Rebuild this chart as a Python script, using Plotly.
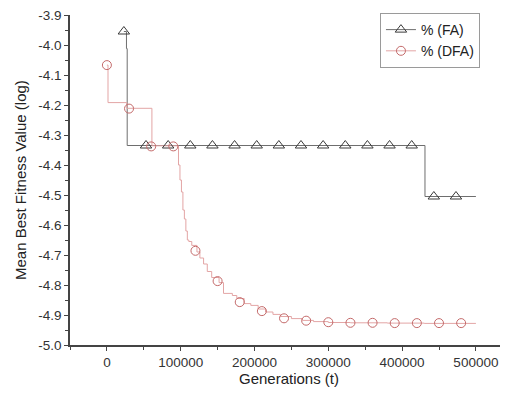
import plotly.graph_objects as go

# FA series (step line)
fa_x = [23000, 26500, 27500, 431000, 500000]
fa_y = [-3.955, -4.012, -4.335, -4.505, -4.505]
# FA markers
fa_mx = [23000, 53000, 83000, 113000, 143000, 173000, 203000, 233000, 263000,
         293000, 323000, 353000, 383000, 413000, 443000, 473000]
fa_my = [-3.955, -4.335, -4.335, -4.335, -4.335, -4.335, -4.335, -4.335, -4.335,
         -4.335, -4.335, -4.335, -4.335, -4.335, -4.505, -4.505]

# DFA series (step line)
dfa_x = [0, 1500, 27000, 61000, 97000, 99000, 101000, 103000, 105000, 107000, 109000,
         111000, 115000, 122000, 126000, 131000, 136000, 142000, 152000, 158000, 170000,
         176000, 186000, 195000, 205000, 215000, 225000, 235000, 250000, 265000, 280000,
         300000, 330000, 380000, 430000, 500000]
dfa_y = [-4.067, -4.192, -4.211, -4.336, -4.40, -4.45, -4.49, -4.55, -4.58, -4.62, -4.65,
         -4.655, -4.668, -4.69, -4.71, -4.73, -4.755, -4.775, -4.792, -4.828, -4.835,
         -4.845, -4.862, -4.868, -4.88, -4.89, -4.898, -4.905, -4.912, -4.918, -4.922,
         -4.925, -4.926, -4.927, -4.928, -4.928]
# DFA markers
dfa_mx = [0, 30000, 60000, 90000, 120000, 150000, 180000, 210000, 240000, 270000,
          300000, 330000, 360000, 390000, 420000, 450000, 480000]
dfa_my = [-4.067, -4.212, -4.338, -4.338, -4.686, -4.787, -4.857, -4.887, -4.911, -4.919,
          -4.924, -4.926, -4.926, -4.927, -4.927, -4.927, -4.927]

x_ticks = [0, 100000, 200000, 300000, 400000, 500000]
y_ticks = [-5.0, -4.9, -4.8, -4.7, -4.6, -4.5, -4.4, -4.3, -4.2, -4.1, -4.0, -3.9]

FA_LINE = "#6e6e6e"
FA_MARK = "#3a3a3a"
DFA_LINE = "#e3a5a5"
DFA_MARK = "#c46a6a"

fig = go.Figure()
fig.add_trace(go.Scatter(x=fa_x, y=fa_y, mode="lines", line=dict(color=FA_LINE, width=1, shape="hv"),
                         showlegend=False, hoverinfo="skip"))
fig.add_trace(go.Scatter(x=dfa_x, y=dfa_y, mode="lines", line=dict(color=DFA_LINE, width=1, shape="hv"),
                         showlegend=False, hoverinfo="skip"))
fig.add_trace(go.Scatter(x=fa_mx, y=fa_my, mode="markers", showlegend=False,
                         marker=dict(symbol="triangle-up-open", size=10, color=FA_MARK, line=dict(width=1))))
fig.add_trace(go.Scatter(x=dfa_mx, y=dfa_my, mode="markers", showlegend=False,
                         marker=dict(symbol="circle-open", size=9, color=DFA_MARK, line=dict(width=1))))
# legend entries
fig.add_trace(go.Scatter(x=[None], y=[None], mode="lines+markers", name="% (FA)",
                         line=dict(color=FA_LINE, width=1),
                         marker=dict(symbol="triangle-up-open", size=10, color=FA_MARK)))
fig.add_trace(go.Scatter(x=[None], y=[None], mode="lines+markers", name="% (DFA)",
                         line=dict(color=DFA_LINE, width=1),
                         marker=dict(symbol="circle-open", size=9, color=DFA_MARK)))

axis_font = dict(family="Liberation Sans, Arial, sans-serif", size=13.5, color="#333333")
fig.update_layout(
    width=500, height=388,
    margin=dict(l=62, r=0, t=7, b=51),
    paper_bgcolor="white", plot_bgcolor="white",
    font=dict(family="Liberation Sans, Arial, sans-serif", color="#333333"),
    showlegend=True,
    legend=dict(x=0.936, y=1.006, xanchor="right", yanchor="top",
                bordercolor="#9a9a9a", borderwidth=1, bgcolor="white",
                font=dict(size=14, color="#222222"), tracegroupgap=0, itemwidth=30),
    xaxis=dict(range=[-50000, 543500], tickvals=x_ticks, ticktext=[str(v) for v in x_ticks],
               automargin=False, ticklabeloverflow="allow",
               showgrid=False, zeroline=False, showline=True, linecolor="#444444", linewidth=1.5,
               ticks="outside", ticklen=4, tickwidth=1.2, tickcolor="#444444", tickfont=axis_font,
               minor=dict(tickvals=[-50000, 50000, 150000, 250000, 350000, 450000], ticks="outside",
                          ticklen=3, tickcolor="#444444", tickwidth=1.2),
               title=dict(text="Generations (t)", font=dict(size=15, color="#222222"), standoff=2)),
    yaxis=dict(range=[-5.0, -3.9], tickvals=y_ticks, ticktext=["%.1f" % v for v in y_ticks],
               automargin=False, ticklabeloverflow="allow",
               showgrid=False, zeroline=False, showline=True, linecolor="#444444", linewidth=1.5,
               ticks="outside", ticklen=4, tickwidth=1.2, tickcolor="#444444", tickfont=axis_font,
               minor=dict(dtick=0.05, ticks="outside", ticklen=3, tickcolor="#444444", tickwidth=1.2)),
    annotations=[dict(text="Mean Best Fitness Value (log)", textangle=-90, showarrow=False,
                      xref="paper", yref="paper", x=(12 - 62) / 438, y=0.5,
                      xanchor="center", yanchor="middle",
                      font=dict(size=15, color="#222222"))],
)
fig.write_html("out.html")
